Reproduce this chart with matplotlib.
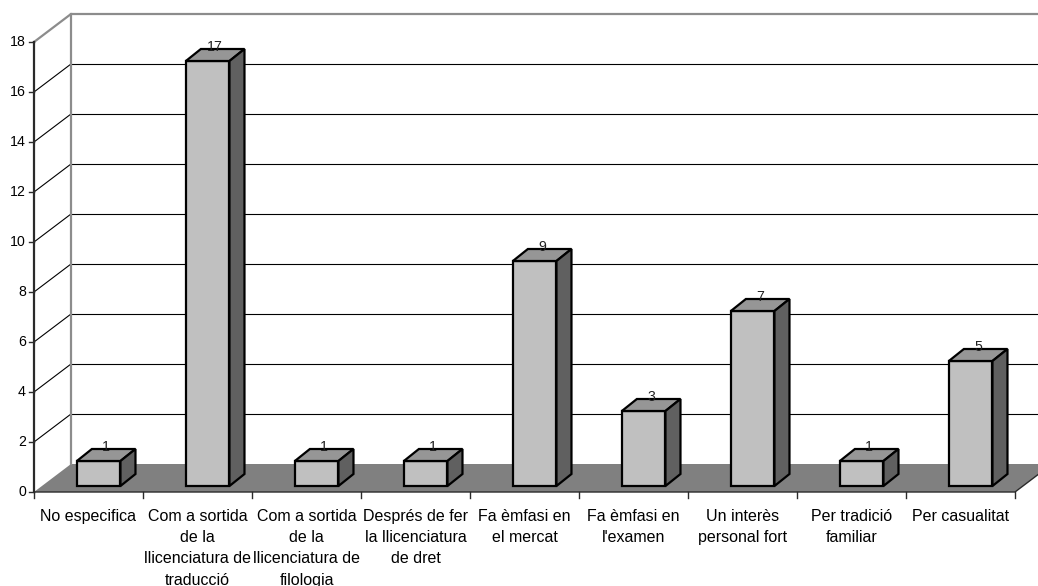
import matplotlib
matplotlib.use("Agg")
import matplotlib.pyplot as plt
from matplotlib.patches import Polygon

plt.rcParams['font.family'] = ['Liberation Sans', 'DejaVu Sans']

categories = [
    "No especifica",
    "Com a sortida\nde la\nllicenciatura de\ntraducció",
    "Com a sortida\nde la\nllicenciatura de\nfilologia",
    "Després de fer\nla llicenciatura\nde dret",
    "Fa èmfasi en\nel mercat",
    "Fa èmfasi en\nl'examen",
    "Un interès\npersonal fort",
    "Per tradició\nfamiliar",
    "Per casualitat",
]
values = [1, 17, 1, 1, 9, 3, 7, 1, 5]
y_ticks = [0, 2, 4, 6, 8, 10, 12, 14, 16, 18]

W, H = 1038, 586
fig = plt.figure(figsize=(W / 100, H / 100), dpi=100)
ax = fig.add_axes([0, 0, 1, 1])
ax.set_axis_off()

# pixel scale of one category / one value unit on the front plane
PX_X, PX_Y = 109.0, 25.0
X0, Y0 = 34.0, 492.0
ax.set_xlim(-X0 / PX_X, (W - X0) / PX_X)
ax.set_ylim((Y0 - H) / PX_Y, Y0 / PX_Y)

n = len(values)
ymax = y_ticks[-1]
# depth of the chart box
DX, DY = 37 / PX_X, 28 / PX_Y
# bar placement in depth and bar thickness
BOX, BOY = 8 / PX_X, 6 / PX_Y
BDX, BDY = 15 / PX_X, 12 / PX_Y
BLEFT, BW = 0.32, 0.40

wall_grey = "#8c8c8c"
dark = "#2a2a2a"

# floor
ax.add_patch(Polygon([(0, 0), (n, 0), (n + DX, DY), (DX, DY)], closed=True,
                     facecolor="#808080", edgecolor="none", zorder=1))
ax.plot([0, n, n + DX], [0, 0, DY], color=dark, lw=1.0, zorder=2,
        solid_capstyle="butt")

# back wall gridlines and side-wall diagonals
for t in y_ticks[1:-1]:
    ax.plot([DX, n + DX + 1], [t + DY, t + DY], color="black", lw=0.8, zorder=1)
    ax.plot([0, DX], [t, t + DY], color="black", lw=0.8, zorder=1)

# back wall frame
ax.plot([0, DX, n + DX + 1], [ymax, ymax + DY, ymax + DY], color=wall_grey,
        lw=1.6, zorder=2)
ax.plot([DX, DX], [DY, ymax + DY], color=wall_grey, lw=1.6, zorder=2)

# value axis
ax.plot([0, 0], [0, ymax], color=dark, lw=1.6, zorder=3)
tick_len = 5 / PX_X
for t in y_ticks:
    ax.plot([-tick_len, 0], [t, t], color=dark, lw=1.0, zorder=3)
    ax.text(-8 / PX_X, t, str(t), ha="right", va="center", fontsize=10.2,
            color="black")

# category axis ticks and labels
for k in range(n + 1):
    ax.plot([k, k], [0, -6 / PX_Y], color=dark, lw=1.0, zorder=3)
for i, lab in enumerate(categories):
    ax.text(i + 0.5, -17 / PX_Y, lab, ha="center", va="top", fontsize=11.5,
            linespacing=1.52, color="black")

# 3D bars
for i, v in enumerate(values):
    x0 = i + BLEFT + BOX
    x1 = x0 + BW
    yb = BOY
    yt = v + BOY
    front = [(x0, yb), (x1, yb), (x1, yt), (x0, yt)]
    top = [(x0, yt), (x1, yt), (x1 + BDX, yt + BDY), (x0 + BDX, yt + BDY)]
    side = [(x1, yb), (x1 + BDX, yb + BDY), (x1 + BDX, yt + BDY), (x1, yt)]
    for pts, fc in ((front, "#c0c0c0"), (top, "#969696"), (side, "#606060")):
        ax.add_patch(Polygon(pts, closed=True, facecolor=fc, edgecolor="black",
                             lw=1.6, joinstyle="miter", zorder=4))
    ax.text((x0 + x1) / 2 + BDX / 2, yt + BDY + 2 / PX_Y, str(v), ha="center",
            va="center", fontsize=10.2, color="#222222", zorder=5)

fig.savefig("out.png", dpi=100)
